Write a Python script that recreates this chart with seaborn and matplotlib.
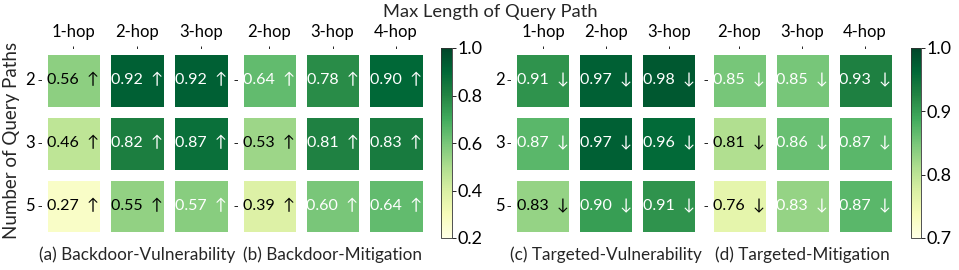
import numpy as np
import matplotlib
matplotlib.use("Agg")
import matplotlib.pyplot as plt
import seaborn as sns

sns.set_theme(style="white")
plt.rcParams['font.family'] = ['Lato', 'DejaVu Sans']

rows = ["2", "3", "5"]
hops_a = ["1-hop", "2-hop", "3-hop"]
hops_b = ["2-hop", "3-hop", "4-hop"]

backdoor_vuln = [[0.56, 0.92, 0.92],
                 [0.46, 0.82, 0.87],
                 [0.27, 0.55, 0.57]]
backdoor_mitig = [[0.64, 0.78, 0.90],
                  [0.53, 0.81, 0.83],
                  [0.39, 0.60, 0.64]]
targeted_vuln = [[0.91, 0.97, 0.98],
                 [0.87, 0.97, 0.96],
                 [0.83, 0.90, 0.91]]
targeted_mitig = [[0.85, 0.85, 0.93],
                  [0.81, 0.86, 0.87],
                  [0.76, 0.83, 0.87]]

# annotation text colours as seen in the reference (k = black, w = white)
txt_a = [["k", "w", "w"], ["k", "w", "w"], ["k", "k", "w"]]
txt_b = [["w", "w", "w"], ["k", "w", "w"], ["k", "w", "w"]]
txt_c = [["w", "w", "w"], ["w", "w", "w"], ["k", "w", "w"]]
txt_d = [["w", "w", "w"], ["k", "w", "w"], ["k", "w", "w"]]

panels = [
    (backdoor_vuln, txt_a, hops_a, "↑", "(a) Backdoor-Vulnerability", 0.2, 1.0, True),
    (backdoor_mitig, txt_b, hops_b, "↑", "(b) Backdoor-Mitigation", 0.2, 1.0, False),
    (targeted_vuln, txt_c, hops_a, "↓", "(c) Targeted-Vulnerability", 0.7, 1.0, True),
    (targeted_mitig, txt_d, hops_b, "↓", "(d) Targeted-Mitigation", 0.7, 1.0, False),
]

W, H = 959, 270
fig = plt.figure(figsize=(W / 100, H / 100), dpi=100)

def px_axes(x0, y0, x1, y1):
    return fig.add_axes([x0 / W, 1 - y1 / H, (x1 - x0) / W, (y1 - y0) / H])

ax_boxes = [(41.5, 48.5, 232.5, 237.5), (237.5, 48.5, 427.5, 237.5),
            (511.5, 48.5, 700.5, 237.5), (707.5, 48.5, 896.5, 237.5)]
cbar_boxes = [(441, 48, 452, 238), (911, 48, 921, 238)]

fs = 12
for i, (vals, tcol, hops, arrow, cap, vmin, vmax, showy) in enumerate(panels):
    ax = px_axes(*ax_boxes[i])
    arr = np.array(vals)
    annot = np.array([[f"{v:.2f}  {arrow}" for v in r] for r in vals])
    cb = i in (1, 3)
    cax = px_axes(*cbar_boxes[i // 2]) if cb else None
    sns.heatmap(arr, ax=ax, cmap="YlGn", vmin=vmin, vmax=vmax,
                annot=annot, fmt="", linewidths=6.5, linecolor="white",
                cbar=cb, cbar_ax=cax,
                xticklabels=hops, yticklabels=rows if showy else False,
                annot_kws={"fontsize": 11.5, "family": ['Lato', 'DejaVu Sans']})
    for t, c in zip(ax.texts, [c for r in tcol for c in r]):
        t.set_color("black" if c == "k" else "white")
    ax.xaxis.tick_top()
    ax.tick_params(axis="x", top=True, bottom=False, length=2, width=0.6,
                   pad=4, labelsize=fs, labelcolor="black", color="black")
    ax.tick_params(axis="y", left=True, length=3, width=0.6, pad=2,
                   labelsize=fs, labelcolor="black", color="black")
    if not showy:
        ax.set_yticks([0.5, 1.5, 2.5])
        ax.set_yticklabels([])
    plt.setp(ax.get_yticklabels(), rotation=0)
    cx = (ax_boxes[i][0] + ax_boxes[i][2]) / 2
    fig.text(cx / W, 1 - 255 / H, cap, ha="center", va="center", fontsize=12.3)
    if cb:
        cbar = ax.collections[0].colorbar
        if vmin == 0.2:
            cbar.set_ticks([0.2, 0.4, 0.6, 0.8, 1.0])
        else:
            cbar.set_ticks([0.7, 0.8, 0.9, 1.0])
        cbar.ax.tick_params(labelsize=13, length=3, width=0.6, pad=1,
                            color="black", labelcolor="black")
        cbar.outline.set_visible(True)
        cbar.outline.set_linewidth(0.6)
        cbar.outline.set_edgecolor("#333333")

fig.text(490 / W, 1 - 12 / H, "Max Length of Query Path", ha="center",
         va="center", fontsize=13.2)
fig.text(12 / W, 1 - 140 / H, "Number of Query Paths", ha="center",
         va="center", rotation=90, fontsize=13.5)

fig.savefig("out.png", dpi=100)
